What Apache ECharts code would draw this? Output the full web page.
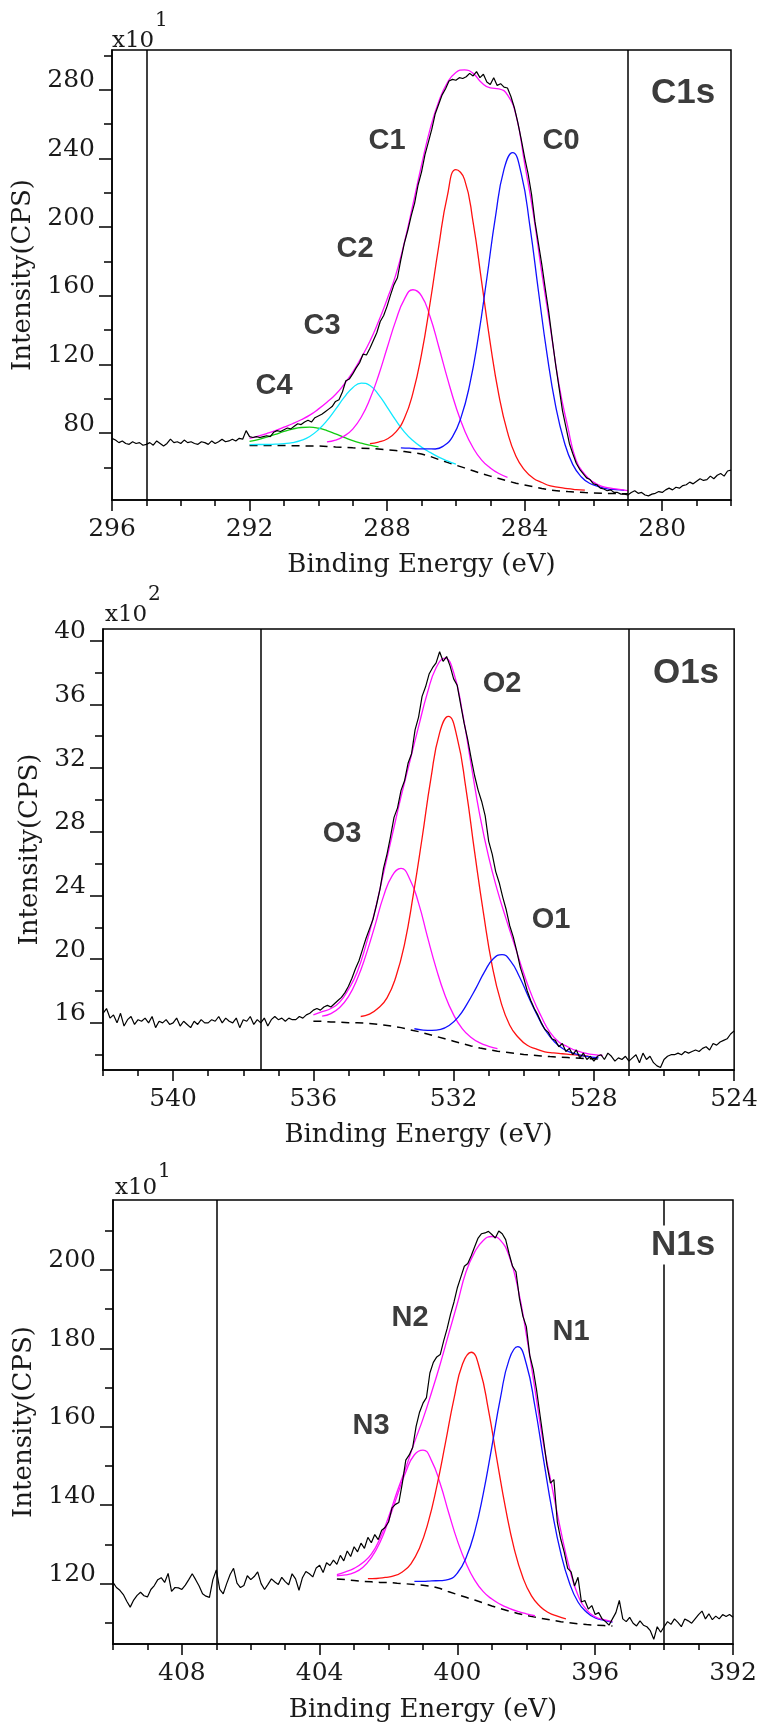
<!DOCTYPE html>
<html>
<head>
<meta charset="utf-8">
<title>XPS C1s / O1s / N1s</title>
<script src="https://cdn.jsdelivr.net/npm/echarts@6.0.0/dist/echarts.min.js"></script>
<style>
  html, body { margin: 0; padding: 0; background: #fff; }
  #chart { width: 761px; height: 1731px; }
</style>
</head>
<body>
<div id="chart"></div>
<script>
// scan steps (eV): raw spectrum and fitted curves
const RAW_STEP = 0.1
const FIT_STEP = 0.25

// ---------- C1s ----------
const c1sRawStart = 296
const c1sRaw = [
  77.0, 76.0, 74.5, 75.5, 74.0, 73.5, 75.0, 74.0, 74.5, 73.0,
  73.5, 74.5, 73.0, 75.5, 74.0, 72.5, 74.0, 76.5, 74.5, 75.0,
  74.0, 76.0, 74.5, 75.0, 74.0, 73.5, 75.0, 74.5, 73.5, 75.5,
  74.0, 75.0, 76.5, 75.0, 75.5, 76.5, 75.5, 77.0, 76.5, 81.5,
  78.0, 77.5, 78.0, 77.5, 78.0, 78.5, 78.0, 80.5, 81.5, 81.0,
  82.0, 83.0, 82.5, 84.0, 85.5, 85.0, 86.5, 87.5, 86.5, 89.0,
  90.0, 91.0, 92.5, 94.0, 95.5, 98.5, 99.5, 104.0, 110.5, 111.5,
  114.5, 118.0, 121.0, 126.0, 125.5, 129.5, 134.0, 138.5, 145.0, 148.5,
  154.0, 160.5, 166.5, 170.5, 181.0, 190.5, 198.0, 206.5, 214.0, 224.5,
  232.0, 242.0, 249.5, 257.0, 266.0, 271.5, 277.0, 280.5, 285.0, 286.0,
  285.5, 287.0, 286.5, 287.5, 289.5, 288.0, 290.5, 287.0, 289.0, 284.5,
  283.0, 287.0, 282.5, 283.5, 281.5, 281.0, 276.0, 269.5, 261.0, 251.0,
  240.5, 231.0, 219.0, 203.0, 190.5, 178.0, 164.0, 150.5, 135.0, 120.0,
  106.5, 93.0, 83.5, 74.0, 68.0, 62.5, 59.0, 56.5, 54.0, 53.0,
  50.5, 50.0, 48.0, 47.5, 46.5, 47.0, 45.5, 45.5, 44.5, 44.5,
  44.0, 45.5, 46.5, 45.0, 45.5, 44.0, 43.5, 44.5, 45.0, 46.0,
  45.5, 47.0, 48.0, 47.0, 48.5, 48.0, 49.5, 50.0, 51.5, 50.5,
  52.0, 53.5, 52.5, 53.0, 55.0, 53.5, 55.5, 56.5, 55.0, 58.0,
  58.5
]
const c1sFitStart = 292
const c1sBackground = [
  72.9, 72.9, 72.8, 72.8, 72.8, 72.7, 72.6, 72.5, 72.5, 72.3,
  72.0, 71.8, 71.5, 71.3, 71.1, 70.8, 70.4, 69.9, 69.3, 68.7,
  67.9, 66.5, 64.7, 63.0, 61.4, 59.8, 58.1, 56.4, 55.0, 53.6,
  52.2, 50.8, 49.8, 48.8, 47.8, 46.9, 46.4, 46.0, 45.7, 45.4,
  45.2, 45.0, 44.9, 44.8, 44.7
]
const c1sEnvelope = [
  77.0, 78.3, 79.8, 81.5, 83.5, 85.5, 87.8, 90.5, 94.0, 98.0,
  102.5, 108.5, 115.5, 124.0, 133.5, 145.0, 158.0, 172.0, 191.0, 213.0,
  236.0, 257.0, 273.0, 284.0, 290.0, 291.5, 289.5, 284.0, 281.0, 280.5,
  277.0, 265.0, 237.0, 208.0, 173.0, 141.0, 108.0, 84.0, 64.0, 56.0,
  51.5, 49.0, 48.0, 47.3, 46.6
]
const c1sC0Start = 287.6
const c1sC0 = [
  71.5, 71.3, 70.9, 70.9, 70.8, 72.7, 77.9, 89.2, 108.1, 135.8,
  170.2, 205.9, 233.7, 243.4, 231.1, 200.9, 162.8, 126.0, 95.9, 75.0,
  61.7, 54.5, 50.7, 48.9, 47.6, 47.1, 46.7
]
const c1sC1Start = 288.5
const c1sC1 = [
  73.9, 74.8, 76.6, 80.6, 88.5, 103.3, 125.9, 155.8, 188.7, 218.0,
  233.4, 227.8, 202.9, 168.0, 132.3, 102.2, 80.6, 66.4, 58.5, 53.8,
  51.3, 49.3, 48.5, 47.7, 47.2, 46.8
]
const c1sC2Start = 289.75
const c1sC2 = [
  74.9, 75.9, 78.3, 82.4, 89.4, 99.9, 113.6, 129.6, 145.4, 157.9,
  163.5, 160.0, 147.8, 130.5, 112.2, 95.4, 81.7, 71.5, 64.3, 59.8,
  56.5, 54.3
]
const c1sC3Start = 292
const c1sC3 = [
  73.3, 73.4, 73.4, 73.6, 73.9, 74.5, 75.8, 78.1, 82.0, 87.3,
  93.9, 100.8, 106.5, 109.2, 107.8, 102.5, 95.2, 87.6, 80.8, 75.7,
  71.9, 68.8, 66.1, 63.9, 62.0
]
const c1sC4Start = 292
const c1sC4 = [
  75.2, 76.3, 77.7, 79.3, 81.0, 82.4, 83.3, 83.5, 82.9, 81.5,
  79.6, 77.6, 75.7, 74.2, 73.0, 72.0
]
const c1sWindow = [295, 281]
const c1sXTicks = [280, 284, 288, 292, 296]
const c1sXMinor = [278, 279, 281, 282, 283, 285, 286, 287, 289, 290, 291, 293, 294, 295]
const c1sYTicks = [80, 120, 160, 200, 240, 280]
const c1sYMinor = [60, 100, 140, 180, 220, 260, 300]

// ---------- O1s ----------
const o1sRawStart = 542
const o1sRaw = [
  16.6, 16.9, 16.3, 16.5, 16.0, 16.6, 15.8, 16.2, 16.4, 15.9,
  16.2, 16.1, 16.3, 16.0, 16.4, 15.7, 16.1, 16.0, 16.2, 15.9,
  16.0, 16.3, 15.8, 16.1, 15.9, 15.7, 16.1, 15.9, 16.2, 16.0,
  16.0, 16.2, 16.1, 16.4, 16.0, 16.3, 16.1, 16.0, 16.3, 15.7,
  16.2, 16.1, 16.4, 15.9, 16.2, 16.0, 16.3, 15.8, 16.2, 16.4,
  16.2, 16.3, 16.1, 16.3, 16.2, 16.2, 16.4, 16.3, 16.5, 16.6,
  16.8, 16.9, 16.8, 17.0, 17.1, 17.0, 17.2, 17.4, 17.6, 17.9,
  18.3, 18.8, 19.4, 19.9, 20.6, 21.3, 21.9, 22.5, 23.4, 24.4,
  25.7, 26.6, 27.7, 28.9, 29.5, 30.6, 31.2, 32.3, 32.9, 34.4,
  35.2, 36.5, 37.1, 37.9, 38.3, 38.6, 39.3, 38.7, 39.0, 38.4,
  37.6, 37.2, 36.0, 34.8, 33.8, 32.6, 31.5, 30.6, 29.9, 29.0,
  27.4, 26.6, 25.5, 24.8, 23.9, 23.1, 22.1, 21.4, 20.5, 19.5,
  18.8, 18.0, 17.4, 16.9, 16.5, 16.0, 15.6, 15.4, 15.0, 14.9,
  14.5, 14.7, 14.2, 14.4, 14.0, 14.3, 13.8, 14.1, 13.7, 13.9,
  13.6, 13.9, 14.0, 13.7, 14.1, 13.9, 13.6, 13.8, 13.7, 13.9,
  13.6, 13.8, 14.0, 13.5, 14.1, 13.7, 13.9, 13.5, 13.3, 13.2,
  13.7, 13.9, 14.0, 14.0, 14.1, 14.0, 14.2, 14.1, 14.2, 14.3,
  14.2, 14.4, 14.5, 14.3, 14.7, 14.6, 14.8, 14.9, 15.0, 15.3,
  15.5
]
const o1sFitStart = 536
const o1sBackground = [
  16.1, 16.1, 16.05, 16.05, 16.0, 16.0, 15.98, 15.93, 15.87, 15.8,
  15.7, 15.57, 15.45, 15.3, 15.15, 15.0, 14.85, 14.7, 14.55, 14.42,
  14.32, 14.22, 14.15, 14.08, 14.02, 13.97, 13.92, 13.88, 13.85, 13.82,
  13.79, 13.76, 13.74, 13.72
]
const o1sEnvelope = [
  16.5, 16.7, 16.9, 17.3, 18.1, 19.2, 20.9, 23.0, 25.4, 27.8,
  30.2, 32.4, 34.6, 36.7, 38.3, 38.9, 38.0, 35.5, 32.2, 29.0,
  26.4, 24.3, 22.5, 20.8, 19.1, 17.6, 16.4, 15.4, 14.8, 14.5,
  14.25, 14.1, 14.0, 13.95
]
const o1sO2Start = 534.65
const o1sO2 = [
  16.4, 16.55, 16.93, 17.57, 18.86, 20.95, 24.05, 27.59, 31.32, 34.21,
  35.24, 33.91, 30.72, 26.7, 22.91, 19.58, 17.3, 15.85, 15.08, 14.59,
  14.36, 14.18, 14.11, 14.06, 14.01, 13.96, 13.91
]
const o1sO3Start = 535.75
const o1sO3 = [
  16.42, 16.58, 16.97, 17.65, 18.75, 20.27, 22.06, 23.94, 25.25, 25.7,
  25.02, 23.52, 21.43, 19.44, 17.75, 16.5, 15.62, 15.08, 14.74, 14.53,
  14.38
]
const o1sO1Start = 533.12
const o1sO1 = [
  15.63, 15.55, 15.53, 15.59, 15.85, 16.36, 17.18, 18.15, 19.2, 20.02,
  20.29, 19.86, 18.88, 17.66, 16.5, 15.49, 14.8, 14.36, 14.12, 13.96,
  13.87, 13.81
]
const o1sWindow = [537.5, 527]
const o1sXTicks = [524, 528, 532, 536, 540]
const o1sXMinor = [525, 526, 527, 529, 530, 531, 533, 534, 535, 537, 538, 539, 541, 542]
const o1sYTicks = [16, 20, 24, 28, 32, 36, 40]
const o1sYMinor = [14, 18, 22, 26, 30, 34, 38]

// ---------- N1s ----------
const n1sRawStart = 410
const n1sRaw = [
  120.3, 119.0, 118.3, 117.2, 115.5, 114.0, 115.8, 117.0, 117.8, 116.9,
  116.6, 118.5, 119.5, 121.0, 121.5, 120.3, 122.6, 118.0, 119.0, 118.9,
  118.5, 119.6, 121.0, 122.5, 121.0, 119.4, 117.4, 116.8, 116.5, 121.0,
  123.5, 118.5, 117.4, 120.0, 122.3, 123.9, 120.1, 119.0, 119.5, 122.0,
  121.0, 121.8, 123.0, 120.0, 118.5, 119.8, 121.2, 120.4, 119.8, 121.6,
  120.5, 119.7, 122.5, 121.2, 118.3, 121.5, 123.1, 122.5, 121.7, 124.0,
  124.7, 122.8, 125.3, 124.6, 126.0, 124.9, 127.2, 125.8, 128.3, 126.9,
  129.4, 128.1, 130.3, 129.0, 131.8, 130.4, 132.5, 131.2, 133.6, 134.3,
  135.7, 139.3, 140.2, 140.7, 145.6, 151.5, 152.8, 154.7, 160.1, 163.7,
  166.0, 167.4, 173.7, 176.4, 177.8, 178.4, 181.9, 185.0, 188.7, 191.8,
  195.5, 198.2, 200.9, 201.6, 203.6, 205.9, 208.1, 209.2, 209.4, 209.8,
  209.0, 208.1, 209.9, 209.2, 207.7, 204.1, 200.9, 199.5, 192.7, 188.2,
  185.5, 178.2, 174.6, 169.2, 162.8, 156.5, 150.2, 145.6, 146.5, 135.7,
  131.3, 128.0, 123.9, 123.0, 119.4, 121.6, 115.3, 115.7, 113.5, 114.4,
  112.1, 112.6, 111.0, 110.3, 109.4, 111.0, 112.6, 115.7, 111.0, 110.3,
  111.4, 109.9, 109.2, 110.5, 109.4, 109.0, 108.0, 105.8, 109.0, 107.6,
  109.0, 110.3, 109.6, 111.0, 110.1, 109.0, 111.0, 110.5, 109.9, 111.0,
  112.1, 113.0, 111.0, 112.3, 110.8, 111.7, 111.0, 112.1, 111.6, 112.1,
  111.4
]
const n1sFitStart = 403.5
const n1sBackground = [
  121.2, 121.0, 120.8, 120.6, 120.45, 120.3, 120.3, 120.1, 119.95, 119.75,
  119.6, 119.3, 118.75, 117.9, 117.2, 116.5, 115.8, 115.05, 114.3, 113.6,
  113.0, 112.4, 111.9, 111.45, 111.05, 110.65, 110.3, 110.0, 109.75, 109.55,
  109.4, 109.3, 109.2
]
const n1sEnvelope = [
  122.3, 123.0, 123.9, 125.3, 127.5, 131.5, 137.0, 143.5, 149.5, 156.0,
  162.0, 168.8, 176.0, 183.8, 191.5, 199.5, 204.5, 207.5, 208.5, 207.5,
  203.5, 195.5, 183.5, 169.5, 155.5, 144.5, 133.5, 124.0, 117.0, 113.3,
  111.5, 110.8, 110.3
]
const n1sN1Start = 401.25
const n1sN1 = [
  120.55, 120.55, 120.7, 120.75, 121.05, 122.7, 126.6, 133.2, 142.95, 154.95,
  167.4, 177.1, 180.4, 176.0, 165.15, 151.6, 138.5, 127.8, 120.2, 115.3,
  112.7, 111.25, 110.65, 110.2
]
const n1sN2Start = 402.6
const n1sN2 = [
  121.25, 121.3, 121.56, 121.94, 122.96, 125.05, 129.1, 135.59, 144.79, 155.79,
  167.17, 176.03, 178.98, 174.6, 164.29, 151.43, 139.03, 128.81, 121.54, 116.85,
  114.17, 112.57, 111.7, 111.02
]
const n1sN3Start = 403.5
const n1sN3 = [
  122.0, 122.2, 122.8, 124.1, 126.65, 130.5, 136.1, 142.4, 148.45, 152.85,
  154.05, 151.3, 145.45, 137.95, 130.9, 125.2, 120.9, 117.95, 116.05, 114.7,
  113.7, 112.9, 112.3, 111.8
]
const n1sWindow = [407, 394]
const n1sXTicks = [392, 396, 400, 404, 408]
const n1sXMinor = [393, 394, 395, 397, 398, 399, 401, 402, 403, 405, 406, 407, 409, 410]
const n1sYTicks = [120, 140, 160, 180, 200]
const n1sYMinor = [110, 130, 150, 170, 190, 210]

// ---------- styles ----------
const SERIF = "'DejaVu Serif', 'Liberation Serif', serif"
const SANS = "'Liberation Sans', Arial, sans-serif"
const INK = '#1a1a1a'
const BLUE = '#1010ff'
const RED = '#ff1010'
const MAGENTA = '#ff10ff'
const CYAN = '#10e8ff'
const GREEN = '#10cc10'

// energies go down from the scan start
const pairs = (start, step, values) =>
  values.map((v, i) => [Math.round((start - i * step) * 100) / 100, v])

const panels = [
  {
    grid: { left: 112, top: 50, width: 619, height: 450 },
    x: [278, 296], y: [41.1, 303.1],
    xTicks: c1sXTicks, xMinor: c1sXMinor, yTicks: c1sYTicks, yMinor: c1sYMinor,
    yNameGap: 66, xNameGap: 52,
    window: c1sWindow,
    raw: pairs(c1sRawStart, RAW_STEP, c1sRaw),
    background: pairs(c1sFitStart, FIT_STEP, c1sBackground),
    envelope: pairs(c1sFitStart, FIT_STEP, c1sEnvelope),
    components: [
      [GREEN, pairs(c1sC4Start, FIT_STEP, c1sC4)],
      [CYAN, pairs(c1sC3Start, FIT_STEP, c1sC3)],
      [MAGENTA, pairs(c1sC2Start, FIT_STEP, c1sC2)],
      [RED, pairs(c1sC1Start, FIT_STEP, c1sC1)],
      [BLUE, pairs(c1sC0Start, FIT_STEP, c1sC0)]
    ]
  },
  {
    grid: { left: 103, top: 629, width: 636, height: 441 },
    x: [524, 542], y: [13.04, 40.73],
    xTicks: o1sXTicks, xMinor: o1sXMinor, yTicks: o1sYTicks, yMinor: o1sYMinor,
    yNameGap: 50, xNameGap: 52,
    window: o1sWindow,
    raw: pairs(o1sRawStart, RAW_STEP, o1sRaw),
    background: pairs(o1sFitStart, FIT_STEP, o1sBackground),
    envelope: pairs(o1sFitStart, FIT_STEP, o1sEnvelope),
    components: [
      [MAGENTA, pairs(o1sO3Start, FIT_STEP, o1sO3)],
      [RED, pairs(o1sO2Start, FIT_STEP, o1sO2)],
      [BLUE, pairs(o1sO1Start, FIT_STEP, o1sO1)]
    ]
  },
  {
    grid: { left: 113, top: 1200, width: 620, height: 444 },
    x: [392, 410], y: [104.6, 217.8],
    xTicks: n1sXTicks, xMinor: n1sXMinor, yTicks: n1sYTicks, yMinor: n1sYMinor,
    yNameGap: 67, xNameGap: 53,
    window: n1sWindow,
    raw: pairs(n1sRawStart, RAW_STEP, n1sRaw),
    background: pairs(n1sFitStart, FIT_STEP, n1sBackground),
    envelope: pairs(n1sFitStart, FIT_STEP, n1sEnvelope),
    components: [
      [MAGENTA, pairs(n1sN3Start, FIT_STEP, n1sN3)],
      [RED, pairs(n1sN2Start, FIT_STEP, n1sN2)],
      [BLUE, pairs(n1sN1Start, FIT_STEP, n1sN1)]
    ]
  }
]

// peak names and the x10^n multipliers, placed in page pixels
const peakNotes = [
  ['C1', 387, 141, 29], ['C0', 561, 141, 29], ['C2', 355, 249, 29],
  ['C3', 322, 326, 29], ['C4', 274, 386, 29], ['C1s', 683, 93, 35],
  ['O2', 502, 684, 29], ['O3', 342, 834, 29], ['O1', 551, 920, 29], ['O1s', 686, 673, 35],
  ['N2', 410, 1318, 29], ['N1', 571, 1332, 29], ['N3', 371, 1426, 29], ['N1s', 683, 1245, 35]
]
const multipliers = [
  ['x10', '1', 112, 41, 155, 21],
  ['x10', '2', 105, 615, 148, 595],
  ['x10', '1', 115, 1188, 158, 1172]
]

const tickLine = { color: '#000', width: 1.5 }
const grid = []
const xAxis = []
const yAxis = []
const series = []

panels.forEach((p, i) => {
  grid.push({ ...p.grid, show: true, borderColor: '#000', borderWidth: 1.5 })

  const xBase = { type: 'value', gridIndex: i, position: 'bottom', min: p.x[0], max: p.x[1], inverse: true, splitLine: { show: false } }
  xAxis.push({
    ...xBase,
    axisLine: { show: true, onZero: false, lineStyle: tickLine },
    axisTick: { show: true, customValues: p.xTicks, length: 11, lineStyle: tickLine },
    axisLabel: { show: true, customValues: p.xTicks, margin: 17, color: INK, fontFamily: SERIF, fontSize: 25 },
    name: 'Binding Energy (eV)',
    nameLocation: 'middle',
    nameGap: p.xNameGap,
    nameTextStyle: { color: INK, fontFamily: SERIF, fontSize: 26, verticalAlign: 'top' }
  })
  xAxis.push({
    ...xBase,
    axisLine: { show: false },
    axisTick: { show: true, customValues: p.xMinor, length: 6, lineStyle: tickLine },
    axisLabel: { show: false }
  })

  const yBase = { type: 'value', gridIndex: i, position: 'left', min: p.y[0], max: p.y[1], splitLine: { show: false } }
  yAxis.push({
    ...yBase,
    axisLine: { show: true, onZero: false, lineStyle: tickLine },
    axisTick: { show: true, customValues: p.yTicks, length: 13, lineStyle: tickLine },
    axisLabel: {
      show: true, customValues: p.yTicks, margin: 17, color: INK,
      fontFamily: SERIF, fontSize: 25, verticalAlign: 'bottom', lineHeight: 18
    },
    name: 'Intensity(CPS)',
    nameLocation: 'middle',
    nameGap: p.yNameGap,
    nameTextStyle: { color: INK, fontFamily: SERIF, fontSize: 26 }
  })
  yAxis.push({
    ...yBase,
    axisLine: { show: false },
    axisTick: { show: true, customValues: p.yMinor, length: 8, lineStyle: tickLine },
    axisLabel: { show: false }
  })

  const line = (data, color, extra) => ({
    type: 'line',
    xAxisIndex: 2 * i,
    yAxisIndex: 2 * i,
    data,
    symbol: 'none',
    silent: true,
    lineStyle: { color, width: 1.3 },
    ...extra
  })

  // Shirley background, carries the two window markers
  series.push(line(p.background, '#000', {
    lineStyle: { color: '#000', width: 1.5, type: [8, 6] },
    markLine: {
      symbol: ['none', 'none'],
      silent: true,
      label: { show: false },
      lineStyle: { color: '#000', width: 1.5, type: 'solid' },
      data: p.window.map(e => ({ xAxis: e }))
    }
  }))
  p.components.forEach(([color, data]) => series.push(line(data, color, { smooth: 0.5 })))
  series.push(line(p.envelope, MAGENTA, { smooth: 0.5 }))
  series.push(line(p.raw, '#000', { lineStyle: { color: '#000', width: 1.2 } }))
})

const graphic = []
peakNotes.forEach(([text, x, y, size]) => {
  graphic.push({
    type: 'text', x, y, z: 100,
    style: {
      text, fill: '#3c3c3c',
      font: `bold ${size}px ${SANS}`,
      align: 'center', verticalAlign: 'middle',
      textAlign: 'center', textVerticalAlign: 'middle',
      backgroundColor: size > 30 ? '#fff' : 'transparent',
      padding: size > 30 ? [2, 3] : 0
    }
  })
})
multipliers.forEach(([base, exp, bx, by, ex, ey]) => {
  graphic.push({
    type: 'text', x: bx, y: by, z: 100,
    style: { text: base, fill: INK, font: `23px ${SERIF}`, align: 'left', verticalAlign: 'middle', textAlign: 'left', textVerticalAlign: 'middle' }
  })
  graphic.push({
    type: 'text', x: ex, y: ey, z: 100,
    style: { text: exp, fill: INK, font: `20px ${SERIF}`, align: 'left', verticalAlign: 'middle', textAlign: 'left', textVerticalAlign: 'middle' }
  })
})

const myChart = echarts.init(document.getElementById('chart'))
myChart.setOption({
  animation: false,
  backgroundColor: '#fff',
  textStyle: { fontFamily: SERIF },
  grid,
  xAxis,
  yAxis,
  series,
  graphic
})
</script>
</body>
</html>
